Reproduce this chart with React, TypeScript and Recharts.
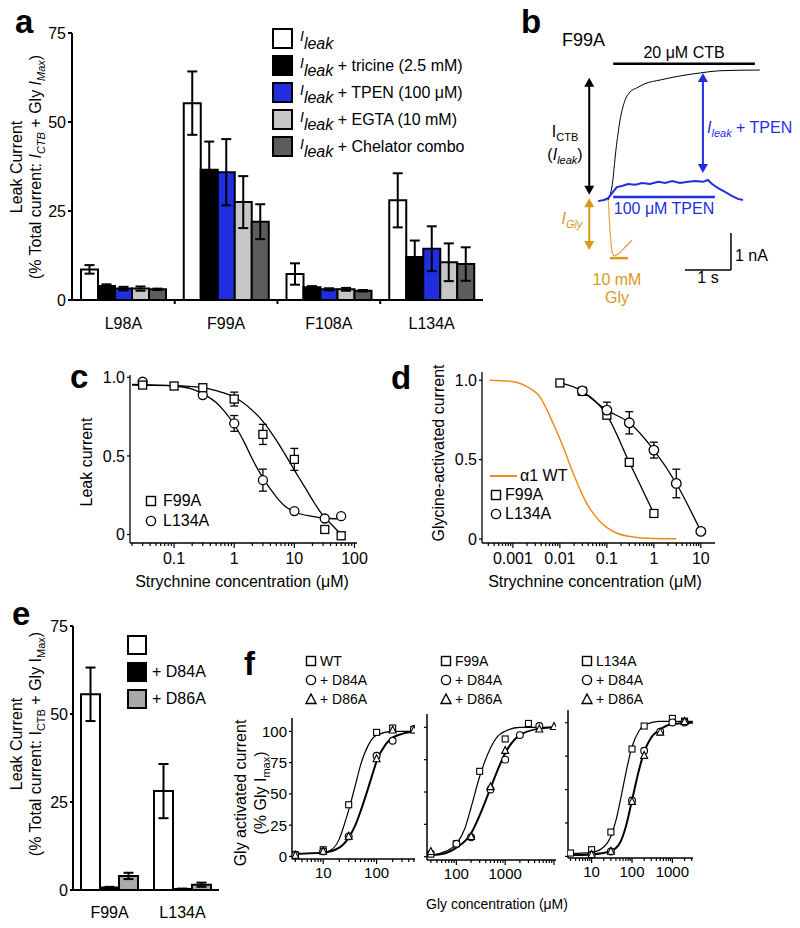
import React from 'react';
import {
  BarChart, Bar, XAxis, YAxis, ErrorBar, Legend, ComposedChart, Scatter, Line, ReferenceLine, Customized,
} from 'recharts';

const FONT = '"Liberation Sans", Arial, Helvetica, sans-serif';
const BLUE = '#1f2fe0';
const GOLD = '#d99a1c';
const ORANGE = '#f08a1c';

// ---------- panel a: leak current with chelators ----------
const mutantsA = ['L98A', 'F99A', 'F108A', 'L134A'];
const leakA = [8.6, 55.3, 7.3, 28.0];
const leakErrA = [1.2, 8.9, 3.0, 7.6];
const tricineA = [3.9, 36.6, 3.6, 12.1];
const tricineErrA = [0.5, 7.9, 0.3, 4.6];
const tpenA = [3.2, 35.9, 3.0, 14.4];
const tpenErrA = [0.5, 9.3, 0.3, 6.3];
const egtaA = [3.2, 27.5, 3.0, 10.6];
const egtaErrA = [0.6, 7.3, 0.4, 5.3];
const comboA = [3.0, 22.0, 2.6, 10.1];
const comboErrA = [0.2, 4.9, 0.2, 4.7];

// ---------- panel b: F99A trace (time s, current nA) ----------
const ctbTrace = [[1.48, 0], [1.57, 0.41], [1.65, 1.35], [1.74, 2.16], [1.85, 2.7], [1.96, 2.92], [2.11, 3.03], [2.28, 3.14], [2.61, 3.24], [3.04, 3.35], [3.48, 3.43], [3.91, 3.49], [4.78, 3.51]];
const glyTrace = [[1.39, 0], [1.48, 0], [1.52, -0.81], [1.57, -1.41], [1.61, -1.51], [1.7, -1.46], [1.83, -1.3], [2.0, -1.08]];
const tpenTrace = [[1.26, -0.03], [1.39, 0], [1.48, 0.05], [1.57, 0.19], [1.67, 0.35], [1.78, 0.38], [1.91, 0.43], [2.07, 0.41], [2.22, 0.46], [2.39, 0.43], [2.57, 0.49], [2.72, 0.46], [2.87, 0.51], [3.04, 0.46], [3.22, 0.49], [3.37, 0.51], [3.54, 0.49], [3.65, 0.54], [3.74, 0.43], [3.87, 0.32], [4.02, 0.22], [4.17, 0.11], [4.3, 0.03], [4.41, 0]];

// ---------- panel c: leak current vs strychnine ----------
const strychF99C = [0.03, 0.1, 0.3, 1, 3, 10, 32, 60];
const leakF99C = [0.951, 0.945, 0.934, 0.862, 0.637, 0.478, 0.032, -0.008];
const errF99C = [0, 0, 0, 0.044, 0.064, 0.07, 0, 0];
const strychL134C = [0.03, 0.3, 1, 3, 10, 32, 60];
const leakL134C = [0.972, 0.887, 0.707, 0.346, 0.149, 0.102, 0.117];
const errL134C = [0, 0, 0.05, 0.07, 0.015, 0, 0];
const fitF99C = [[0.02, 0.95], [0.1, 0.948], [0.3, 0.935], [0.5, 0.915], [1, 0.875], [2, 0.79], [3, 0.72], [5, 0.6], [7, 0.51], [10, 0.41], [15, 0.3], [20, 0.22], [30, 0.12], [40, 0.07], [60, 0.0]];
const fitL134C = [[0.02, 0.955], [0.1, 0.945], [0.2, 0.925], [0.3, 0.895], [0.5, 0.84], [0.7, 0.78], [1, 0.7], [1.5, 0.58], [2, 0.48], [3, 0.36], [5, 0.24], [7, 0.18], [10, 0.145], [20, 0.115], [30, 0.105], [55, 0.1]];

// ---------- panel d: glycine current vs strychnine ----------
const strychF99D = [0.01, 0.03, 0.1, 0.3, 1];
const glyF99D = [0.983, 0.93, 0.78, 0.483, 0.161];
const strychL134D = [0.03, 0.1, 0.3, 1, 3, 10];
const glyL134D = [0.933, 0.812, 0.732, 0.56, 0.35, 0.048];
const errL134D = [0, 0.05, 0.07, 0.05, 0.09, 0];
const wtCurveD = [[0.00032, 1.0], [0.00086, 0.994], [0.00195, 0.962], [0.00375, 0.895], [0.0072, 0.728], [0.0118, 0.58], [0.0192, 0.414], [0.0369, 0.226], [0.071, 0.111], [0.161, 0.038], [0.363, 0.013], [0.97, 0.004], [3.0, 0.002]];

// ---------- panel e: leak current with D84A / D86A ----------
const mutantsE = ['F99A', 'L134A'];
const baseE = [55.6, 28.1];
const baseErrE = [7.6, 7.7];
const d84aE = [0.7, 0.3];
const d84aErrE = [0.2, 0.1];
const d86aE = [4.0, 1.5];
const d86aErrE = [0.9, 0.6];

// ---------- panel f: glycine dose-response ----------
const wtConcF = [3, 10, 30, 100, 200, 500];
const wtF = [1.3, 5.3, 41.3, 99.2, 102.7, 101.3];
const wtD84ConcF = [3, 10, 30, 100, 200, 500];
const wtD84F = [1.3, 4, 16, 80.5, 92.5, 101.9];
const wtD86ConcF = [3, 10, 30, 100, 200, 500];
const wtD86F = [0.8, 4, 16, 78, 101, 101];
const wtFitF = [[2.6, 2], [10, 3], [15, 6], [20, 14], [25, 26], [30, 37], [40, 57], [50, 73], [70, 89], [100, 97], [200, 100], [520, 100]];
const wtMutFitF = [[2.6, 2], [10, 3], [20, 7], [30, 15], [40, 25], [50, 36], [60, 46], [80, 63], [100, 76], [150, 90], [200, 95], [300, 98], [520, 100]];

const f99ConcF = [30, 100, 300, 1000, 3000];
const f99F = [2, 10, 66, 91, 103];
const f99D84ConcF = [100, 200, 500, 1000, 2000, 5000];
const f99D84F = [10, 15, 52, 75, 94, 101];
const f99D86ConcF = [30, 200, 500, 1000, 5000, 10000];
const f99D86F = [3.9, 15.5, 54, 82, 98.5, 100.5];
const f99FitF = [[25, 1], [50, 3], [100, 10], [150, 22], [200, 38], [300, 62], [500, 84], [700, 93], [1000, 97], [2000, 100], [11000, 100]];
const f99MutFitF = [[25, 1], [50, 2], [100, 7], [200, 18], [300, 32], [500, 53], [700, 67], [1000, 80], [2000, 94], [5000, 99], [11000, 100]];

const l134ConcF = [3, 10, 30, 100, 200, 1000, 2000];
const l134F = [2.5, 5, 18.2, 80.3, 97.5, 103.2, 101.2];
const l134D84ConcF = [10, 30, 100, 200, 500, 1000, 2000];
const l134D84F = [1.2, 3.7, 41.8, 79, 93.3, 100.2, 100.2];
const l134D86ConcF = [10, 30, 100, 200, 500, 2000];
const l134D86F = [1.2, 3.7, 41, 75.4, 92.8, 100.7];
const l134FitF = [[2.6, 2], [10, 3], [20, 7], [30, 15], [40, 27], [50, 40], [70, 62], [100, 82], [150, 94], [200, 98], [500, 101], [3200, 101]];
const l134MutFitF = [[2.6, 1], [10, 1.5], [30, 4], [50, 10], [70, 22], [100, 42], [150, 65], [200, 78], [300, 89], [500, 95], [1000, 99], [3200, 100]];

// ---------- helpers ----------
const pts = (xs: number[], ys: number[], errs?: number[]) =>
  xs.map((x, i) => ({ x, y: ys[i], err: errs ? errs[i] : 0 }));
const pairs = (p: number[][]) => p.map(([x, y]) => ({ x, y }));
const tv = (p: number[][]) => p.map(([t, v]) => ({ t, v }));

// decade + minor ticks for a log axis
const logTicks = (lo: number, hi: number) => {
  const out: number[] = [];
  for (let e = Math.floor(Math.log10(lo)); e <= Math.ceil(Math.log10(hi)); e++) {
    for (let m = 1; m <= 9; m++) {
      const v = +(m * Math.pow(10, e)).toPrecision(6);
      if (v >= lo && v <= hi) out.push(v);
    }
  }
  return out;
};

const logXTick = (labels: number[], fontSize: number, labelDy: number) => (props: any) => {
  const { x, y, payload } = props;
  const major = labels.includes(payload.value) || Math.abs(Math.log10(payload.value) % 1) < 1e-6;
  return (
    <g>
      <line x1={x} x2={x} y1={y} y2={y + (major ? 5 : 3)} stroke="#000" strokeWidth={1.2} />
      {labels.includes(payload.value) && (
        <text x={x} y={y + labelDy} textAnchor="middle" fontSize={fontSize} fill="#000" fontFamily={FONT}>
          {payload.value}
        </text>
      )}
    </g>
  );
};

const yTick = (fontSize: number, fmt: (v: number) => string, showLabel = true, len = 4, sw = 1.2) => (props: any) => {
  const { x, y, payload } = props;
  return (
    <g>
      <line x1={x} x2={x - len} y1={y} y2={y} stroke="#000" strokeWidth={sw} />
      {showLabel && (
        <text x={x - len - 2} y={y + fontSize * 0.36} textAnchor="end" fontSize={fontSize} fill="#000" fontFamily={FONT}>
          {fmt(payload.value)}
        </text>
      )}
    </g>
  );
};

// category label, optionally with a small tick on the boundary to the previous group
const catTick = (dy: number, halfBand = 0) => (props: any) => {
  const { x, y, payload, index } = props;
  return (
    <g>
      {halfBand > 0 && index > 0 && (
        <line x1={x - halfBand} x2={x - halfBand} y1={y} y2={y + 4} stroke="#000" strokeWidth={2} />
      )}
      <text x={x} y={y + dy} textAnchor="middle" fontSize={16} fill="#000" fontFamily={FONT}>
        {payload.value}
      </text>
    </g>
  );
};

const Square = (size: number, sw = 1.3) => (p: any) => (
  <rect x={p.cx - size / 2} y={p.cy - size / 2} width={size} height={size} fill="#fff" stroke="#000" strokeWidth={sw} />
);
const Circle = (r: number, sw = 1.3) => (p: any) => <circle cx={p.cx} cy={p.cy} r={r} fill="#fff" stroke="#000" strokeWidth={sw} />;
const Triangle = (s: number, sw = 1.3) => (p: any) => (
  <polygon
    points={`${p.cx},${p.cy - s * 0.6} ${p.cx - s / 2},${p.cy + s * 0.4} ${p.cx + s / 2},${p.cy + s * 0.4}`}
    fill="#fff" stroke="#000" strokeWidth={sw}
  />
);

const arrowShape = (color: string, double = true) => (p: any) => {
  const { x1, y1, x2, y2 } = p;
  const dir = y2 > y1 ? 1 : -1;
  const h = 9, w = 5;
  return (
    <g>
      <line x1={x1} y1={y1 + dir * h * 0.8} x2={x2} y2={y2 - dir * h * 0.8} stroke={color} strokeWidth={2} />
      {double && <polygon points={`${x1},${y1} ${x1 - w},${y1 + dir * h} ${x1 + w},${y1 + dir * h}`} fill={color} />}
      <polygon points={`${x2},${y2} ${x2 - w},${y2 - dir * h} ${x2 + w},${y2 - dir * h}`} fill={color} />
    </g>
  );
};

// ---------- panel a ----------
const tableA = mutantsA.map((name, i) => ({
  name,
  leak: leakA[i], leakErr: leakErrA[i],
  tricine: tricineA[i], tricineErr: tricineErrA[i],
  tpen: tpenA[i], tpenErr: tpenErrA[i],
  egta: egtaA[i], egtaErr: egtaErrA[i],
  combo: comboA[i], comboErr: comboErrA[i],
}));

const seriesA = [
  { key: 'leak', fill: '#ffffff', text: '' },
  { key: 'tricine', fill: '#000000', text: ' + tricine (2.5 mM)' },
  { key: 'tpen', fill: BLUE, text: ' + TPEN (100 μM)' },
  { key: 'egta', fill: '#c6c6c6', text: ' + EGTA (10 mM)' },
  { key: 'combo', fill: '#5c5c5c', text: ' + Chelator combo' },
];

const Ileak = () => (
  <span style={{ fontStyle: 'italic' }}>
    <span style={{ fontSize: 14, position: 'relative', top: -3 }}>I</span>
    <span style={{ position: 'relative', top: 5 }}>leak</span>
  </span>
);

const LegendA = () => (
  <div style={{ fontFamily: FONT, fontSize: 16, color: '#000' }}>
    {seriesA.map((s) => (
      <div key={s.key} style={{ display: 'flex', alignItems: 'center', height: 27 }}>
        <div style={{ width: 17, height: 17, border: '2px solid #000', background: s.fill, boxSizing: 'content-box' }} />
        <span style={{ marginLeft: 7, whiteSpace: 'nowrap' }}>
          <Ileak />
          {s.text}
        </span>
      </div>
    ))}
  </div>
);

const TitleA = () => (
  <g fontFamily={FONT} fontSize={16} fill="#000">
    <text transform="translate(22,167) rotate(-90)" textAnchor="middle">Leak Current</text>
    <text transform="translate(41,167) rotate(-90)" textAnchor="middle">
      (% Total current: <tspan fontStyle="italic">I</tspan>
      <tspan fontStyle="italic" fontSize={11} dy={4}>CTB</tspan>
      <tspan dy={-4}> + Gly </tspan>
      <tspan fontStyle="italic">I</tspan>
      <tspan fontStyle="italic" fontSize={11} dy={4}>Max</tspan>
      <tspan dy={-4}>)</tspan>
    </text>
  </g>
);

const PanelA = () => (
  <div style={{ position: 'absolute', left: 0, top: 0 }}>
    <BarChart width={490} height={340} data={tableA} margin={{ top: 33, right: 7, bottom: 0, left: 0 }} barSize={17} barGap={0}>
      <XAxis dataKey="name" height={40} tickLine={false} tickSize={0} tickMargin={0}
        axisLine={{ stroke: '#000', strokeWidth: 2 }} tick={catTick(29, 51.4)} />
      <YAxis width={72} domain={[0, 75]} ticks={[0, 25, 50, 75]} tickLine={false} tickSize={0} tickMargin={0}
        axisLine={{ stroke: '#000', strokeWidth: 2 }} tick={yTick(16, (v) => String(v), true, 4, 2)}
        label={{ content: () => <TitleA /> }} />
      {seriesA.map((s) => (
        <Bar key={s.key} dataKey={s.key} fill={s.fill} stroke="#000" strokeWidth={2} isAnimationActive={false}>
          <ErrorBar dataKey={`${s.key}Err`} direction="y" width={5} stroke="#000" strokeWidth={2} />
        </Bar>
      ))}
      <Legend layout="horizontal" verticalAlign="middle" align="center" content={() => <LegendA />}
        wrapperStyle={{ position: 'absolute', left: 272, top: 25, width: 'auto', height: 'auto' }} />
    </BarChart>
  </div>
);

// ---------- panel b ----------
const LabelsB = () => (
  <g fontFamily={FONT} fontSize={16}>
    <text x={22} y={46} fontSize={18} fill="#000">F99A</text>
    <text x={25} y={137} textAnchor="middle" fill="#000">
      I<tspan fontSize={11} dy={4}>CTB</tspan>
    </text>
    <text x={25} y={160} textAnchor="middle" fill="#000">
      (<tspan fontStyle="italic">I</tspan><tspan fontStyle="italic" fontSize={11} dy={4}>leak</tspan><tspan dy={-4}>)</tspan>
    </text>
    <text x={32} y={224} textAnchor="middle" fill={GOLD} fontStyle="italic">
      I<tspan fontSize={11} dy={4}>Gly</tspan>
    </text>
    <text x={167} y={133} fill={BLUE}>
      <tspan fontStyle="italic">I</tspan><tspan fontStyle="italic" fontSize={11} dy={4}>leak</tspan>
      <tspan dy={-4}> + TPEN</tspan>
    </text>
    <text x={77} y={285} textAnchor="middle" fill={GOLD}>10 mM</text>
    <text x={77} y={303} textAnchor="middle" fill={GOLD}>Gly</text>
    <text x={195} y={261} fill="#000">1 nA</text>
    <text x={168} y={283} textAnchor="middle" fill="#000">1 s</text>
  </g>
);

const PanelB = () => (
  <div style={{ position: 'absolute', left: 540, top: 0 }}>
    <ComposedChart width={260} height={310} margin={{ top: 0, right: 0, bottom: 0, left: 0 }}>
      <XAxis type="number" dataKey="t" domain={[0, 5.65]} hide allowDataOverflow />
      <YAxis type="number" domain={[-2.97, 5.4]} hide allowDataOverflow />
      <Line data={tv(glyTrace)} dataKey="v" type="monotone" stroke="#e8a040" strokeWidth={1.2} dot={false} isAnimationActive={false} />
      <Line data={tv(ctbTrace)} dataKey="v" type="monotone" stroke="#000" strokeWidth={1} dot={false} isAnimationActive={false} />
      <Line data={tv(tpenTrace)} dataKey="v" type="linear" stroke={BLUE} strokeWidth={2} dot={false} isAnimationActive={false} />
      <ReferenceLine segment={[{ x: 1.59, y: 3.68 }, { x: 4.67, y: 3.68 }]} stroke="#000" strokeWidth={2.5}
        label={{ value: '20 μM CTB', position: 'top', fill: '#000', fontSize: 16, fontFamily: FONT, offset: 6 }} />
      <ReferenceLine segment={[{ x: 1.59, y: 0.08 }, { x: 3.8, y: 0.08 }]} stroke={BLUE} strokeWidth={2.5}
        label={{ value: '100 μM TPEN', position: 'bottom', fill: BLUE, fontSize: 16, fontFamily: FONT, offset: 6 }} />
      <ReferenceLine segment={[{ x: 1.52, y: -1.57 }, { x: 1.91, y: -1.57 }]} stroke={GOLD} strokeWidth={2.5} />
      <ReferenceLine segment={[{ x: 1.07, y: 3.3 }, { x: 1.07, y: 0.14 }]} shape={arrowShape('#000')} />
      <ReferenceLine segment={[{ x: 1.07, y: 0.05 }, { x: 1.07, y: -1.35 }]} shape={arrowShape(GOLD)} />
      <ReferenceLine segment={[{ x: 3.54, y: 3.43 }, { x: 3.54, y: 0.73 }]} shape={arrowShape(BLUE)} />
      <ReferenceLine segment={[{ x: 4.15, y: -0.89 }, { x: 4.15, y: -1.89 }]} stroke="#000" strokeWidth={1.5} />
      <ReferenceLine segment={[{ x: 3.15, y: -1.89 }, { x: 4.15, y: -1.89 }]} stroke="#000" strokeWidth={1.5} />
      <Customized component={<LabelsB />} />
    </ComposedChart>
  </div>
);

// ---------- panel c ----------
const LegendSym = ({ kind }: { kind: string }) => (
  <svg width={12} height={12} style={{ display: 'block' }}>
    {kind === 'square' && <rect x={1.5} y={1.5} width={9} height={9} fill="#fff" stroke="#000" strokeWidth={1.4} />}
    {kind === 'circle' && <circle cx={6} cy={6} r={4.6} fill="#fff" stroke="#000" strokeWidth={1.4} />}
    {kind === 'triangle' && <polygon points="6,1 1,10.5 11,10.5" fill="#fff" stroke="#000" strokeWidth={1.4} />}
  </svg>
);

const SymLegend = ({ rows, fontSize, pitch, gap }: { rows: { kind: string; label: string; w?: number }[]; fontSize: number; pitch: number; gap: number }) => (
  <div style={{ fontFamily: FONT, fontSize, color: '#000' }}>
    {rows.map((r) => (
      <div key={r.label} style={{ display: 'flex', alignItems: 'center', height: pitch, whiteSpace: 'nowrap' }}>
        {r.kind === 'line'
          ? <div style={{ width: r.w ?? 26, height: 2, background: ORANGE }} />
          : <LegendSym kind={r.kind} />}
        <span style={{ marginLeft: gap }}>{r.label}</span>
      </div>
    ))}
  </div>
);

const TitleC = () => (
  <g fontFamily={FONT} fontSize={16} fill="#000">
    <text transform="translate(52,102) rotate(-90)" textAnchor="middle">Leak current</text>
    <text x={202} y={227} textAnchor="middle">Strychnine concentration (μM)</text>
  </g>
);

const PanelC = () => (
  <div style={{ position: 'absolute', left: 40, top: 360 }}>
    <ComposedChart width={330} height={240} margin={{ top: 15, right: 13, bottom: 0, left: 0 }}>
      <XAxis type="number" dataKey="x" scale="log" domain={[0.0185, 110]} allowDataOverflow ticks={logTicks(0.02, 100)}
        interval={0} height={57} tickLine={false} tickSize={0} tickMargin={0}
        axisLine={{ stroke: '#000', strokeWidth: 1.3 }} tick={logXTick([0.1, 1, 10, 100], 16, 21)} />
      <YAxis type="number" dataKey="y" width={90} domain={[-0.054, 1.015]} allowDataOverflow ticks={[0, 0.5, 1]}
        interval={0} tickLine={false} tickSize={0} tickMargin={0} axisLine={{ stroke: '#000', strokeWidth: 1.3 }}
        tick={yTick(16, (v) => (v === 0 ? '0' : v.toFixed(1)), true, 3)} label={{ content: () => <TitleC /> }} />
      <Line data={pairs(fitF99C)} dataKey="y" type="monotone" stroke="#000" strokeWidth={1.3} dot={false} isAnimationActive={false} />
      <Line data={pairs(fitL134C)} dataKey="y" type="monotone" stroke="#000" strokeWidth={1.3} dot={false} isAnimationActive={false} />
      <Scatter data={pts(strychL134C, leakL134C, errL134C)} dataKey="y" shape={Circle(4.5)} isAnimationActive={false}>
        <ErrorBar dataKey="err" direction="y" width={4} stroke="#000" strokeWidth={1.3} />
      </Scatter>
      <Scatter data={pts(strychF99C, leakF99C, errF99C)} dataKey="y" shape={Square(8)} isAnimationActive={false}>
        <ErrorBar dataKey="err" direction="y" width={4} stroke="#000" strokeWidth={1.3} />
      </Scatter>
      <Legend layout="horizontal" verticalAlign="middle" align="center"
        content={() => <SymLegend fontSize={16} pitch={20} gap={6} rows={[{ kind: 'square', label: 'F99A' }, { kind: 'circle', label: 'L134A' }]} />}
        wrapperStyle={{ position: 'absolute', left: 105, top: 131, width: 'auto', height: 'auto' }} />
    </ComposedChart>
  </div>
);

// ---------- panel d ----------
const TitleD = () => (
  <g fontFamily={FONT} fontSize={16} fill="#000">
    <text transform="translate(44,93) rotate(-90)" textAnchor="middle">Glycine-activated current</text>
    <text x={195} y={227} textAnchor="middle">Strychnine concentration (μM)</text>
  </g>
);

const PanelD = () => (
  <div style={{ position: 'absolute', left: 400, top: 360 }}>
    <ComposedChart width={330} height={240} margin={{ top: 12, right: 15, bottom: 0, left: 0 }}>
      <XAxis type="number" dataKey="x" scale="log" domain={[0.00022, 20]} allowDataOverflow ticks={logTicks(0.0003, 10)}
        interval={0} height={57} tickLine={false} tickSize={0} tickMargin={0}
        axisLine={{ stroke: '#000', strokeWidth: 1.3 }} tick={logXTick([0.001, 0.01, 0.1, 1, 10], 16, 21)} />
      <YAxis type="number" dataKey="y" width={82} domain={[-0.025, 1.052]} allowDataOverflow ticks={[0, 0.5, 1]}
        interval={0} tickLine={false} tickSize={0} tickMargin={0} axisLine={{ stroke: '#000', strokeWidth: 1.3 }}
        tick={yTick(16, (v) => (v === 0 ? '0' : v.toFixed(1)), true, 3)} label={{ content: () => <TitleD /> }} />
      <Line data={pairs(wtCurveD)} dataKey="y" type="monotone" stroke={ORANGE} strokeWidth={1.5} dot={false} isAnimationActive={false} />
      <Line data={pts(strychF99D, glyF99D)} dataKey="y" type="monotone" stroke="#000" strokeWidth={1.3} dot={false} isAnimationActive={false} />
      <Line data={pts(strychL134D, glyL134D)} dataKey="y" type="monotone" stroke="#000" strokeWidth={1.3} dot={false} isAnimationActive={false} />
      <Scatter data={pts(strychF99D, glyF99D)} dataKey="y" shape={Square(8)} isAnimationActive={false} />
      <Scatter data={pts(strychL134D, glyL134D, errL134D)} dataKey="y" shape={Circle(4.8)} isAnimationActive={false}>
        <ErrorBar dataKey="err" direction="y" width={4} stroke="#000" strokeWidth={1.3} />
      </Scatter>
      <Legend layout="horizontal" verticalAlign="middle" align="center"
        content={() => (
          <SymLegend fontSize={16} pitch={19} gap={3} rows={[
            { kind: 'line', label: 'α1 WT', w: 27 },
            { kind: 'square', label: 'F99A' },
            { kind: 'circle', label: 'L134A' },
          ]} />
        )}
        wrapperStyle={{ position: 'absolute', left: 90, top: 106, width: 'auto', height: 'auto' }} />
    </ComposedChart>
  </div>
);

// ---------- panel e ----------
const tableE = mutantsE.map((name, i) => ({
  name, base: baseE[i], baseErr: baseErrE[i], d84a: d84aE[i], d84aErr: d84aErrE[i], d86a: d86aE[i], d86aErr: d86aErrE[i],
}));
const seriesE = [
  { key: 'base', fill: '#ffffff', text: '' },
  { key: 'd84a', fill: '#000000', text: '+ D84A' },
  { key: 'd86a', fill: '#a9a9a9', text: '+ D86A' },
];

const LegendE = () => (
  <div style={{ fontFamily: FONT, fontSize: 16, color: '#000' }}>
    {seriesE.map((s) => (
      <div key={s.key} style={{ display: 'flex', alignItems: 'center', height: 27 }}>
        <div style={{ width: 16, height: 16, border: '2px solid #000', background: s.fill, boxSizing: 'content-box' }} />
        <span style={{ marginLeft: 5, whiteSpace: 'nowrap' }}>{s.text}</span>
      </div>
    ))}
  </div>
);

const TitleE = () => (
  <g fontFamily={FONT} fontSize={16} fill="#000">
    <text transform="translate(22,144) rotate(-90)" textAnchor="middle">Leak Current</text>
    <text transform="translate(41,144) rotate(-90)" textAnchor="middle">
      (% Total current: I<tspan fontSize={11} dy={4}>CTB</tspan>
      <tspan dy={-4}> + Gly I</tspan>
      <tspan fontSize={11} dy={4}>Max</tspan>
      <tspan dy={-4}>)</tspan>
    </text>
  </g>
);

const PanelE = () => (
  <div style={{ position: 'absolute', left: 0, top: 600 }}>
    <BarChart width={230} height={326} data={tableE} margin={{ top: 26, right: 11, bottom: 0, left: 0 }} barSize={19} barGap={0}>
      <XAxis dataKey="name" height={36} tickLine={false} tickSize={0} tickMargin={0}
        axisLine={{ stroke: '#000', strokeWidth: 2 }} tick={catTick(28)} />
      <YAxis width={73} domain={[0, 75]} ticks={[0, 25, 50, 75]} tickLine={false} tickSize={0} tickMargin={0}
        axisLine={{ stroke: '#000', strokeWidth: 2 }} tick={yTick(16, (v) => String(v), true, 3, 2)}
        label={{ content: () => <TitleE /> }} />
      {seriesE.map((s) => (
        <Bar key={s.key} dataKey={s.key} fill={s.fill} stroke="#000" strokeWidth={2} isAnimationActive={false}>
          <ErrorBar dataKey={`${s.key}Err`} direction="y" width={5} stroke="#000" strokeWidth={2} />
        </Bar>
      ))}
      <Legend layout="horizontal" verticalAlign="middle" align="center" content={() => <LegendE />}
        wrapperStyle={{ position: 'absolute', left: 127, top: 31, width: 'auto', height: 'auto' }} />
    </BarChart>
  </div>
);

// ---------- panel f ----------
type FPanel = {
  left: number; width: number; yWidth: number; top: number; bottom: number; yDomain: [number, number];
  xDomain: [number, number]; labels: number[]; name: string; showY: boolean;
  sq: { x: number; y: number; err: number }[]; ci: { x: number; y: number; err: number }[]; tr: { x: number; y: number; err: number }[];
  fit: number[][]; mutFit: number[][]; legendLeft: number;
};

const panelsF: FPanel[] = [
  {
    left: 192, width: 228, yWidth: 100, top: 73, bottom: 41, yDomain: [-2.1, 110.7], xDomain: [2.6, 524],
    labels: [10, 100], name: 'WT', showY: true, sq: pts(wtConcF, wtF), ci: pts(wtD84ConcF, wtD84F), tr: pts(wtD86ConcF, wtD86F),
    fit: wtFitF, mutFit: wtMutFitF, legendLeft: 113,
  },
  {
    left: 420, width: 141, yWidth: 7, top: 69, bottom: 40, yDomain: [-2.55, 110.3], xDomain: [25, 11000],
    labels: [100, 1000], name: 'F99A', showY: false, sq: pts(f99ConcF, f99F), ci: pts(f99D84ConcF, f99D84F), tr: pts(f99D86ConcF, f99D86F),
    fit: f99FitF, mutFit: f99MutFitF, legendLeft: 20,
  },
  {
    left: 561, width: 137, yWidth: 7, top: 65, bottom: 42, yDomain: [-1.2, 109.5], xDomain: [2.6, 3240],
    labels: [10, 100, 1000], name: 'L134A', showY: false, sq: pts(l134ConcF, l134F), ci: pts(l134D84ConcF, l134D84F), tr: pts(l134D86ConcF, l134D86F),
    fit: l134FitF, mutFit: l134MutFitF, legendLeft: 20,
  },
];

const TitleF = () => (
  <g fontFamily={FONT} fontSize={16} fill="#000">
    <text transform="translate(54,148) rotate(-90)" textAnchor="middle">Gly activated current</text>
    <text transform="translate(74,148) rotate(-90)" textAnchor="middle">
      (% Gly I<tspan fontSize={11} dy={4}>max</tspan><tspan dy={-4}>)</tspan>
    </text>
  </g>
);

const PanelF = ({ p }: { p: FPanel }) => (
  <div style={{ position: 'absolute', left: p.left, top: 645 }}>
    <ComposedChart width={p.width} height={255} margin={{ top: p.top, right: 5, bottom: 0, left: 0 }}>
      <XAxis type="number" dataKey="x" scale="log" domain={p.xDomain} allowDataOverflow
        ticks={logTicks(p.xDomain[0], p.xDomain[1])} interval={0} height={p.bottom} tickLine={false} tickSize={0} tickMargin={0}
        axisLine={{ stroke: '#000', strokeWidth: 1.5 }} tick={logXTick(p.labels, 15, 19)} />
      <YAxis type="number" dataKey="y" width={p.yWidth} domain={p.yDomain} allowDataOverflow ticks={[0, 25, 50, 75, 100]}
        interval={0} tickLine={false} tickSize={0} tickMargin={0} axisLine={{ stroke: '#000', strokeWidth: 1.5 }}
        tick={yTick(15, (v) => String(v), p.showY, 3)} label={p.showY ? { content: () => <TitleF /> } : undefined} />
      <Line data={pairs(p.fit)} dataKey="y" type="monotone" stroke="#000" strokeWidth={1.2} dot={false} isAnimationActive={false} />
      <Line data={pairs(p.mutFit)} dataKey="y" type="monotone" stroke="#000" strokeWidth={2} dot={false} isAnimationActive={false} />
      <Scatter data={p.sq} dataKey="y" shape={Square(6, 1.1)} isAnimationActive={false} />
      <Scatter data={p.ci} dataKey="y" shape={Circle(3.4, 1.1)} isAnimationActive={false} />
      <Scatter data={p.tr} dataKey="y" shape={Triangle(7, 1.1)} isAnimationActive={false} />
      <Legend layout="horizontal" verticalAlign="middle" align="center"
        content={() => (
          <SymLegend fontSize={14} pitch={19} gap={3} rows={[
            { kind: 'square', label: p.name },
            { kind: 'circle', label: '+ D84A' },
            { kind: 'triangle', label: '+ D86A' },
          ]} />
        )}
        wrapperStyle={{ position: 'absolute', left: p.legendLeft, top: 6, width: 'auto', height: 'auto' }} />
    </ComposedChart>
  </div>
);

// ---------- figure ----------
const panelLetters = [
  { t: 'a', x: 15, y: 33 }, { t: 'b', x: 521, y: 33 }, { t: 'c', x: 70, y: 388 },
  { t: 'd', x: 391, y: 389 }, { t: 'e', x: 12, y: 625 }, { t: 'f', x: 244, y: 675 },
];

export default function App() {
  return (
    <div style={{ position: 'absolute', left: 0, top: 0, width: 800, height: 928, background: '#fff', overflow: 'hidden', fontFamily: FONT }}>
      <PanelA />
      <PanelB />
      <PanelC />
      <PanelD />
      <PanelE />
      {panelsF.map((p) => <PanelF key={p.name} p={p} />)}
      <svg width={800} height={928} style={{ position: 'absolute', left: 0, top: 0, pointerEvents: 'none' }}>
        {panelLetters.map((l) => (
          <text key={l.t} x={l.x} y={l.y} fontFamily={FONT} fontWeight="bold" fontSize={33} fill="#000">{l.t}</text>
        ))}
        <text x={497} y={909} textAnchor="middle" fontFamily={FONT} fontSize={14} fill="#000">Gly concentration (μM)</text>
      </svg>
    </div>
  );
}
